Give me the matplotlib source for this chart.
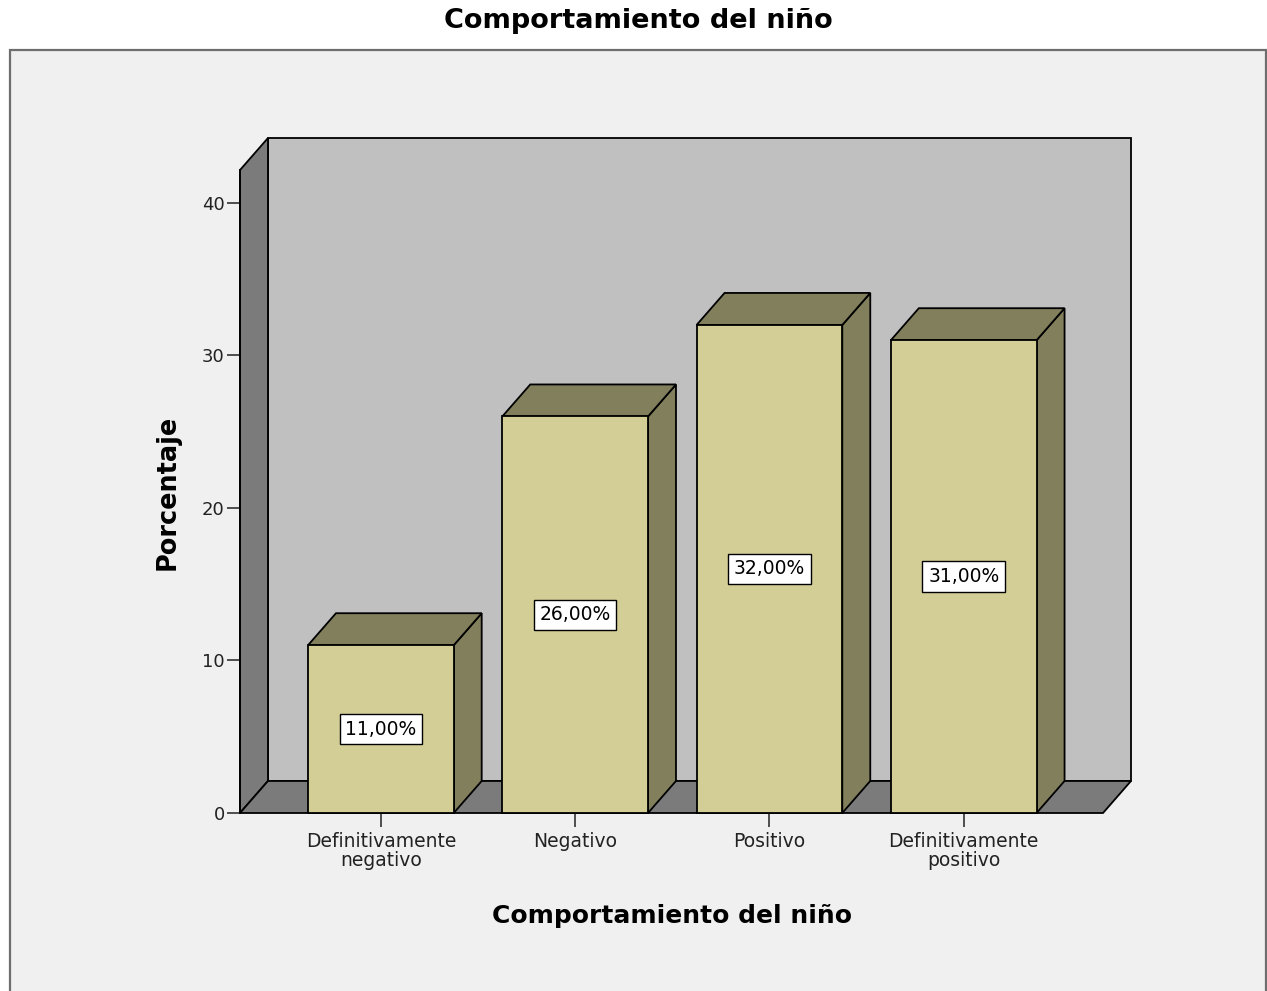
import matplotlib
matplotlib.use("Agg")
import matplotlib.pyplot as plt
import matplotlib.patches as patches

# data
categories = ["Definitivamente\nnegativo", "Negativo", "Positivo", "Definitivamente\npositivo"]
percentages = [11.0, 26.0, 32.0, 31.0]
y_ticks = [0, 10, 20, 30, 40]
title = "Comportamiento del niño"
x_label = "Comportamiento del niño"
y_label = "Porcentaje"

# style
W, H = 1267, 991
BAR_FRONT = "#D3CE96"
BAR_SHADE = "#827F5C"
WALL_BACK = "#C0C0C0"
WALL_DARK = "#7B7B7B"
BG = "#F0F0F0"
BAR_W = 0.75
DX, DY = 0.144, 2.1        # 3D depth offset in data units
X0, X1 = -0.725, 3.717      # floor front edge
Y_TOP = 42.16               # front top of left wall

plt.rcParams["font.family"] = "DejaVu Sans"

fig = plt.figure(figsize=(W / 100, H / 100), dpi=100)
fig.patch.set_facecolor("white")

# outer frame
frame = patches.Rectangle(
    (10 / W, -0.05), (1266 - 10) / W, (991 - 50) / H + 0.05,
    transform=fig.transFigure, facecolor=BG, edgecolor="#6E6E6E",
    linewidth=1.6, zorder=-10,
)
fig.patches.append(frame)

ax = fig.add_axes([240 / W, (H - 813) / H, (1131 - 240) / W, (813 - 138) / H])
ax.set_zorder(1)
ax.set_facecolor("none")
ax.set_xlim(X0, X1 + DX)
ax.set_ylim(0, Y_TOP + DY)

edge = dict(edgecolor="black", linewidth=1.3, joinstyle="miter")

# back wall
ax.add_patch(patches.Polygon(
    [(X0 + DX, DY), (X1 + DX, DY), (X1 + DX, Y_TOP + DY), (X0 + DX, Y_TOP + DY)],
    facecolor=WALL_BACK, zorder=1, clip_on=False, **edge))
# left wall
ax.add_patch(patches.Polygon(
    [(X0, 0), (X0, Y_TOP), (X0 + DX, Y_TOP + DY), (X0 + DX, DY)],
    facecolor=WALL_DARK, zorder=1, clip_on=False, **edge))
# floor
ax.add_patch(patches.Polygon(
    [(X0, 0), (X1, 0), (X1 + DX, DY), (X0 + DX, DY)],
    facecolor=WALL_DARK, zorder=1, clip_on=False, **edge))

# bars
for i, v in enumerate(percentages):
    l, r = i - BAR_W / 2, i + BAR_W / 2
    ax.add_patch(patches.Polygon(
        [(r, 0), (r + DX, DY), (r + DX, v + DY), (r, v)],
        facecolor=BAR_SHADE, zorder=2, clip_on=False, **edge))
    ax.add_patch(patches.Polygon(
        [(l, v), (r, v), (r + DX, v + DY), (l + DX, v + DY)],
        facecolor=BAR_SHADE, zorder=2, clip_on=False, **edge))
    ax.add_patch(patches.Rectangle(
        (l, 0), BAR_W, v, facecolor=BAR_FRONT, zorder=3, clip_on=False, **edge))
    ax.text(i, v / 2, f"{v:.2f}".replace(".", ",") + "%", ha="center", va="center",
            fontsize=13.5, zorder=4,
            bbox=dict(boxstyle="square,pad=0.3", facecolor="white",
                      edgecolor="black", linewidth=1.0))

# axes
for s in ["top", "right", "bottom"]:
    ax.spines[s].set_visible(False)
ax.spines["left"].set_bounds(0, Y_TOP)
ax.spines["left"].set_linewidth(1.3)

ax.set_yticks(y_ticks)
ax.set_xticks(range(len(categories)))
ax.set_xticklabels(categories, linespacing=0.95)
ax.tick_params(axis="y", direction="out", length=9.5, width=1.1, pad=1.5,
               labelsize=13, colors="#222222")
ax.tick_params(axis="x", direction="out", length=10, width=1.1, pad=4,
               labelsize=13.5, colors="#222222")

# titles
fig.text(638 / W, 1 - 28 / H, title, ha="center", va="baseline",
         fontsize=19.5, fontweight="bold")
fig.text(672 / W, 1 - 923 / H, x_label, ha="center", va="baseline",
         fontsize=18, fontweight="bold")
fig.text(168 / W, 1 - 492 / H, y_label, ha="center", va="center",
         rotation=90, fontsize=18.4, fontweight="bold")

fig.savefig("out.png", dpi=100, facecolor=fig.get_facecolor())
